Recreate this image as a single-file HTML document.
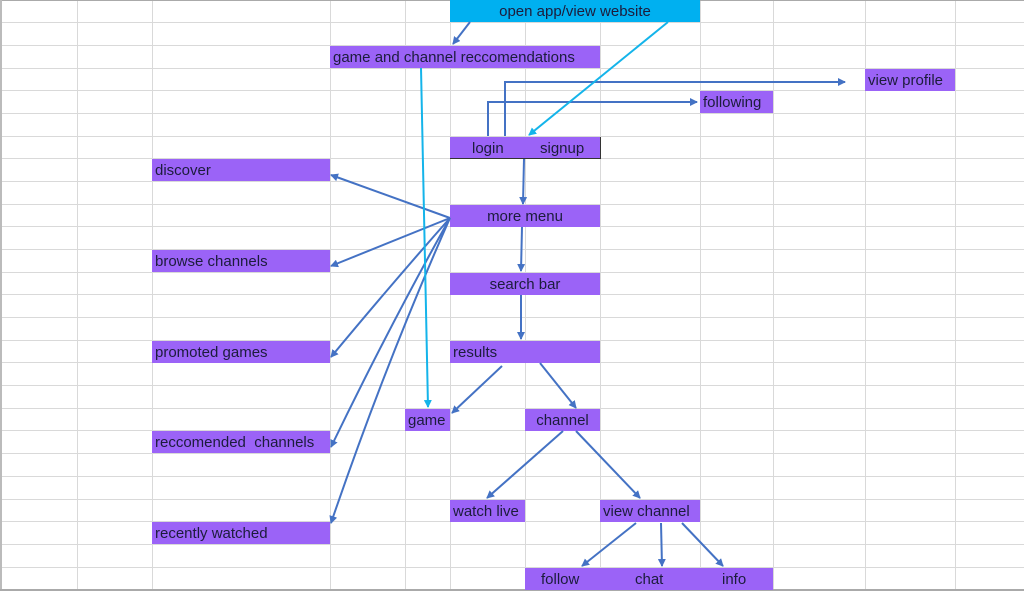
<!DOCTYPE html>
<html><head><style>
html,body{margin:0;padding:0;background:#fff;}
body{width:1024px;height:597px;overflow:hidden;position:relative;font-family:"Liberation Sans",sans-serif;}
svg{position:absolute;left:0;top:0;}
.b{position:absolute;background:#9b63f7;color:#1c1c3c;font-size:15px;line-height:24px;height:22px;box-sizing:border-box;white-space:nowrap;overflow:visible;}
.l{padding-left:3px;}
.c{text-align:center;}
</style></head><body>
<svg width="1024" height="597">
<g stroke="#d9d9d9" stroke-width="1">
<line x1="77.5" y1="0" x2="77.5" y2="590"/><line x1="152.5" y1="0" x2="152.5" y2="590"/>
<line x1="330.5" y1="0" x2="330.5" y2="590"/><line x1="405.5" y1="0" x2="405.5" y2="590"/>
<line x1="450.5" y1="0" x2="450.5" y2="590"/><line x1="525.5" y1="0" x2="525.5" y2="590"/>
<line x1="600.5" y1="0" x2="600.5" y2="590"/><line x1="700.5" y1="0" x2="700.5" y2="590"/>
<line x1="773.5" y1="0" x2="773.5" y2="590"/><line x1="865.5" y1="0" x2="865.5" y2="590"/>
<line x1="955.5" y1="0" x2="955.5" y2="590"/>
<line x1="0" y1="22.5" x2="1024" y2="22.5"/><line x1="0" y1="45.5" x2="1024" y2="45.5"/>
<line x1="0" y1="68.5" x2="1024" y2="68.5"/><line x1="0" y1="90.5" x2="1024" y2="90.5"/>
<line x1="0" y1="113.5" x2="1024" y2="113.5"/><line x1="0" y1="136.5" x2="1024" y2="136.5"/>
<line x1="0" y1="158.5" x2="1024" y2="158.5"/><line x1="0" y1="181.5" x2="1024" y2="181.5"/>
<line x1="0" y1="204.5" x2="1024" y2="204.5"/><line x1="0" y1="226.5" x2="1024" y2="226.5"/>
<line x1="0" y1="249.5" x2="1024" y2="249.5"/><line x1="0" y1="272.5" x2="1024" y2="272.5"/>
<line x1="0" y1="294.5" x2="1024" y2="294.5"/><line x1="0" y1="317.5" x2="1024" y2="317.5"/>
<line x1="0" y1="340.5" x2="1024" y2="340.5"/><line x1="0" y1="362.5" x2="1024" y2="362.5"/>
<line x1="0" y1="385.5" x2="1024" y2="385.5"/><line x1="0" y1="408.5" x2="1024" y2="408.5"/>
<line x1="0" y1="430.5" x2="1024" y2="430.5"/><line x1="0" y1="453.5" x2="1024" y2="453.5"/>
<line x1="0" y1="476.5" x2="1024" y2="476.5"/><line x1="0" y1="499.5" x2="1024" y2="499.5"/>
<line x1="0" y1="521.5" x2="1024" y2="521.5"/><line x1="0" y1="544.5" x2="1024" y2="544.5"/>
<line x1="0" y1="567.5" x2="1024" y2="567.5"/>
</g>
<line x1="0" y1="0.5" x2="1024" y2="0.5" stroke="#aaa"/>
<line x1="1" y1="0" x2="1" y2="590" stroke="#bbb" stroke-width="2"/>
<line x1="0" y1="590" x2="1024" y2="590" stroke="#aaa" stroke-width="2"/>
</svg>
<div class="b c" style="left:450px;top:0;width:250px;background:#00b0f0;">open app/view website</div>
<div class="b l" style="left:330px;top:46px;width:270px;">game and channel reccomendations</div>
<div class="b l" style="left:865px;top:69px;width:90px;">view profile</div>
<div class="b l" style="left:700px;top:91px;width:73px;">following</div>
<div class="b" style="left:450px;top:137px;width:151px;border-right:1px solid #333;border-bottom:1px solid #333;"><span style="position:absolute;left:22px;">login</span><span style="position:absolute;left:90px;">signup</span></div>
<div class="b l" style="left:152px;top:159px;width:178px;">discover</div>
<div class="b c" style="left:450px;top:205px;width:150px;">more menu</div>
<div class="b l" style="left:152px;top:250px;width:178px;">browse channels</div>
<div class="b c" style="left:450px;top:273px;width:150px;">search bar</div>
<div class="b l" style="left:152px;top:341px;width:178px;">promoted games</div>
<div class="b l" style="left:450px;top:341px;width:150px;">results</div>
<div class="b l" style="left:405px;top:409px;width:45px;">game</div>
<div class="b c" style="left:525px;top:409px;width:75px;">channel</div>
<div class="b l" style="left:152px;top:431px;width:178px;">reccomended&nbsp; channels</div>
<div class="b l" style="left:450px;top:500px;width:75px;">watch live</div>
<div class="b l" style="left:600px;top:500px;width:100px;">view channel</div>
<div class="b l" style="left:152px;top:522px;width:178px;">recently watched</div>
<div class="b" style="left:525px;top:568px;width:248px;"><span style="position:absolute;left:16px;">follow</span><span style="position:absolute;left:110px;">chat</span><span style="position:absolute;left:197px;">info</span></div>
<svg width="1024" height="597">
<defs>
<marker id="a" markerWidth="8" markerHeight="8" refX="7" refY="4" orient="auto" markerUnits="userSpaceOnUse"><path d="M0,0 L8,4 L0,8 z" fill="#4472c4"/></marker>
<marker id="c" markerWidth="8" markerHeight="8" refX="7" refY="4" orient="auto" markerUnits="userSpaceOnUse"><path d="M0,0 L8,4 L0,8 z" fill="#14b4ea"/></marker>
</defs>
<g stroke="#4472c4" stroke-width="2" fill="none" marker-end="url(#a)">
<line x1="470" y1="22" x2="453" y2="44"/>
<polyline points="488,136 488,102 697,102"/>
<polyline points="505,136 505,82 845,82"/>
<line x1="524" y1="159" x2="523" y2="204"/>
<line x1="450" y1="218" x2="331" y2="175"/>
<line x1="450" y1="218" x2="331" y2="266"/>
<path d="M450,218 Q395,280 331,357"/>
<path d="M450,218 Q390,325 331,447"/>
<path d="M450,218 Q385,365 331,523"/>
<line x1="522" y1="227" x2="521" y2="271"/>
<line x1="521" y1="295" x2="521" y2="339"/>
<line x1="502" y1="366" x2="452" y2="413"/>
<line x1="540" y1="363" x2="576" y2="408"/>
<line x1="563" y1="431" x2="487" y2="498"/>
<line x1="576" y1="431" x2="640" y2="498"/>
<line x1="636" y1="523" x2="582" y2="566"/>
<line x1="661" y1="523" x2="662" y2="566"/>
<line x1="682" y1="523" x2="723" y2="566"/>
</g>
<g stroke="#14b4ea" stroke-width="2" fill="none" marker-end="url(#c)">
<line x1="668" y1="22" x2="529" y2="135"/>
<line x1="421" y1="68" x2="428" y2="407"/>
</g>
</svg>
</body></html>
